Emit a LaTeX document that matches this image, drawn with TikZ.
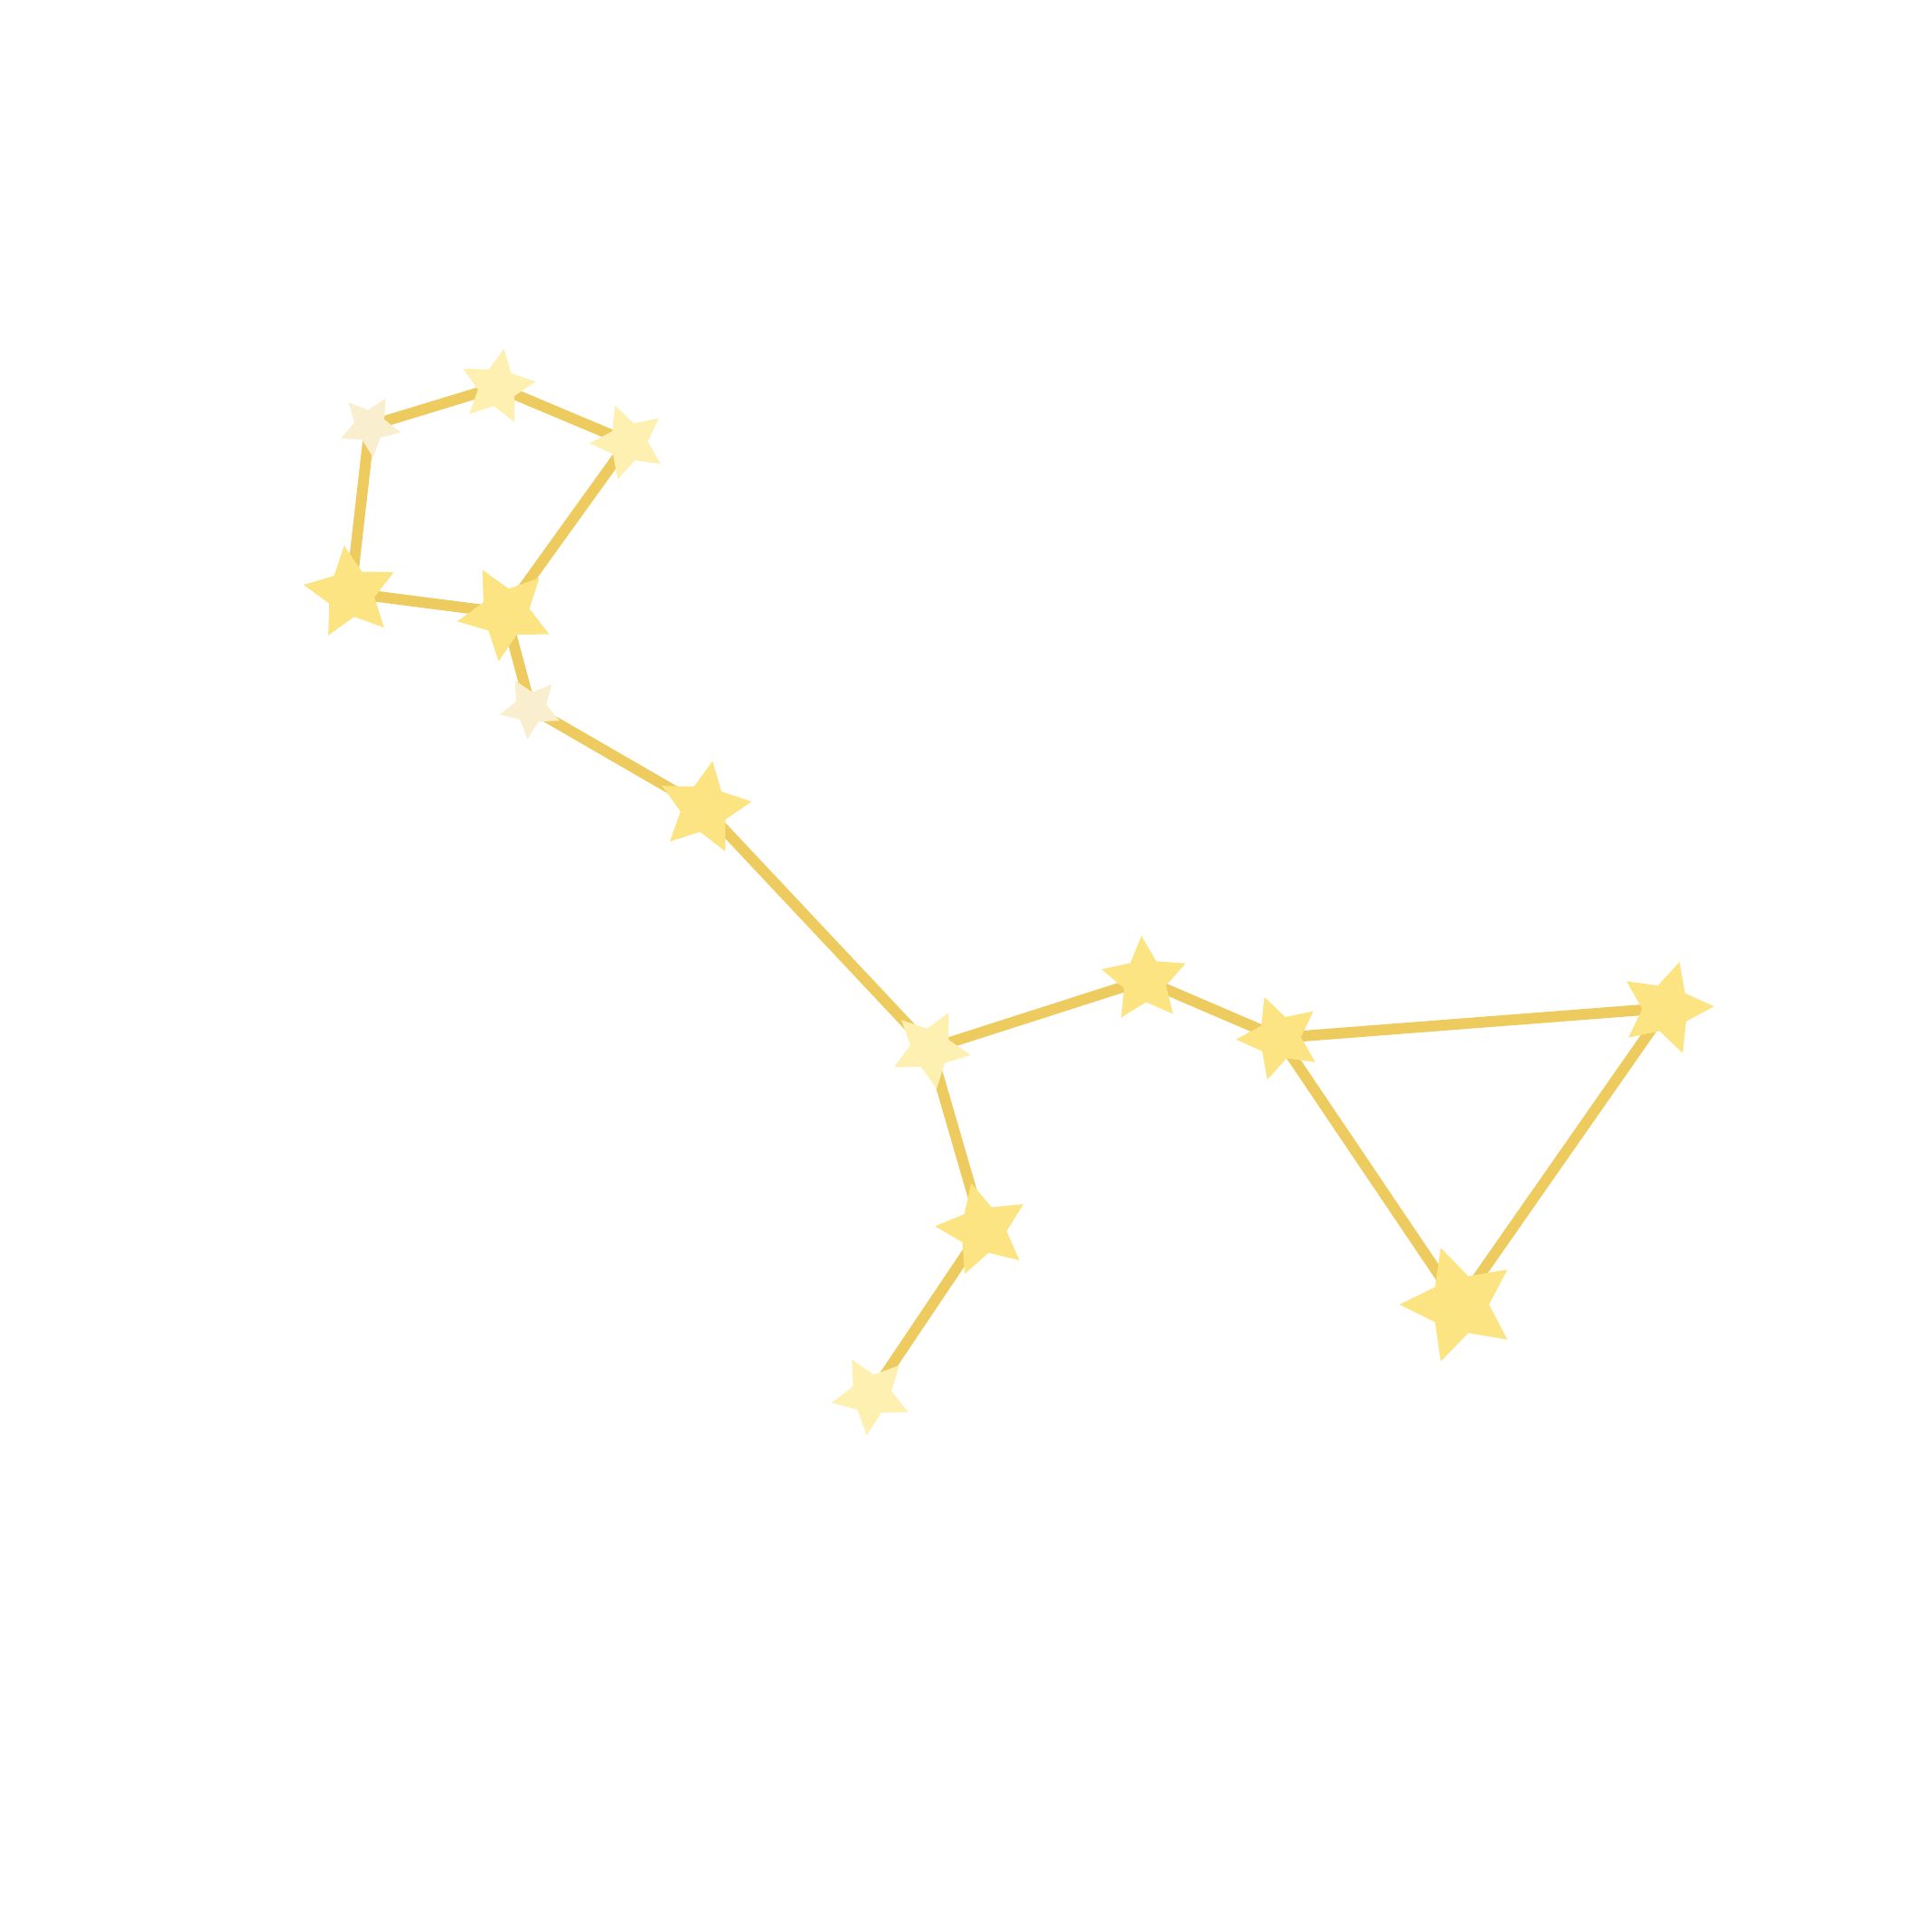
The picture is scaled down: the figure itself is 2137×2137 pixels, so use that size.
\documentclass[tikz,border=0pt]{standalone}
\usepackage{tikz}
\usetikzlibrary{shapes.geometric}
\definecolor{linkgold}{RGB}{238,203,94}
\definecolor{starbright}{RGB}{252,228,131}
\definecolor{starpale}{RGB}{254,240,176}
\definecolor{starfaint}{RGB}{249,239,207}

\begin{document}
\begin{tikzpicture}[x=1pt, y=-1pt,
  link/.style={draw=linkgold, line width=12pt, line join=round},
  spark/.style={star, star points=5, star point ratio=2, inner sep=0pt, draw=none},
  bright/.style={spark, fill=starbright},
  pale/.style={spark, fill=starpale},
  faint/.style={spark, fill=starfaint}]
  \useasboundingbox (0,0) rectangle (2137,2137);
  % star positions
  \foreach \n/\px/\py in {1/409/471, 2/550/428, 3/695/489, 4/388/656, 5/559/678,
      6/587/783, 7/779/894, 8/1029/1160, 9/1266/1084, 10/1415/1148,
      11/1843/1115, 12/1614/1443, 13/1087/1360, 14/964/1543}
    \coordinate (s\n) at (\px,\py);
  % links
  \draw[link] (s1) -- (s2) -- (s3) -- (s5) -- (s4) -- cycle;
  \draw[link] (s5) -- (s6) -- (s7) -- (s8) -- (s9) -- (s10) -- (s11) -- (s12) -- (s10);
  \draw[link] (s8) -- (s13) -- (s14);
  % stars on top
  \foreach \n/\r/\a/\c in {1/35/-30/faint, 2/43/-10/pale, 3/43/20/pale, 4/53/8/bright,
      5/54/28/bright, 6/35/30/faint, 7/53/-10/bright, 8/45/-27/pale, 9/49/4/bright,
      10/48/20/bright, 11/53/-16/bright, 12/66/18/bright, 13/53/14/bright, 14/45/29/pale}
    \node[\c, minimum size=2*\r pt, rotate=\a] (star\n) at (s\n) {};
\end{tikzpicture}
\end{document}
